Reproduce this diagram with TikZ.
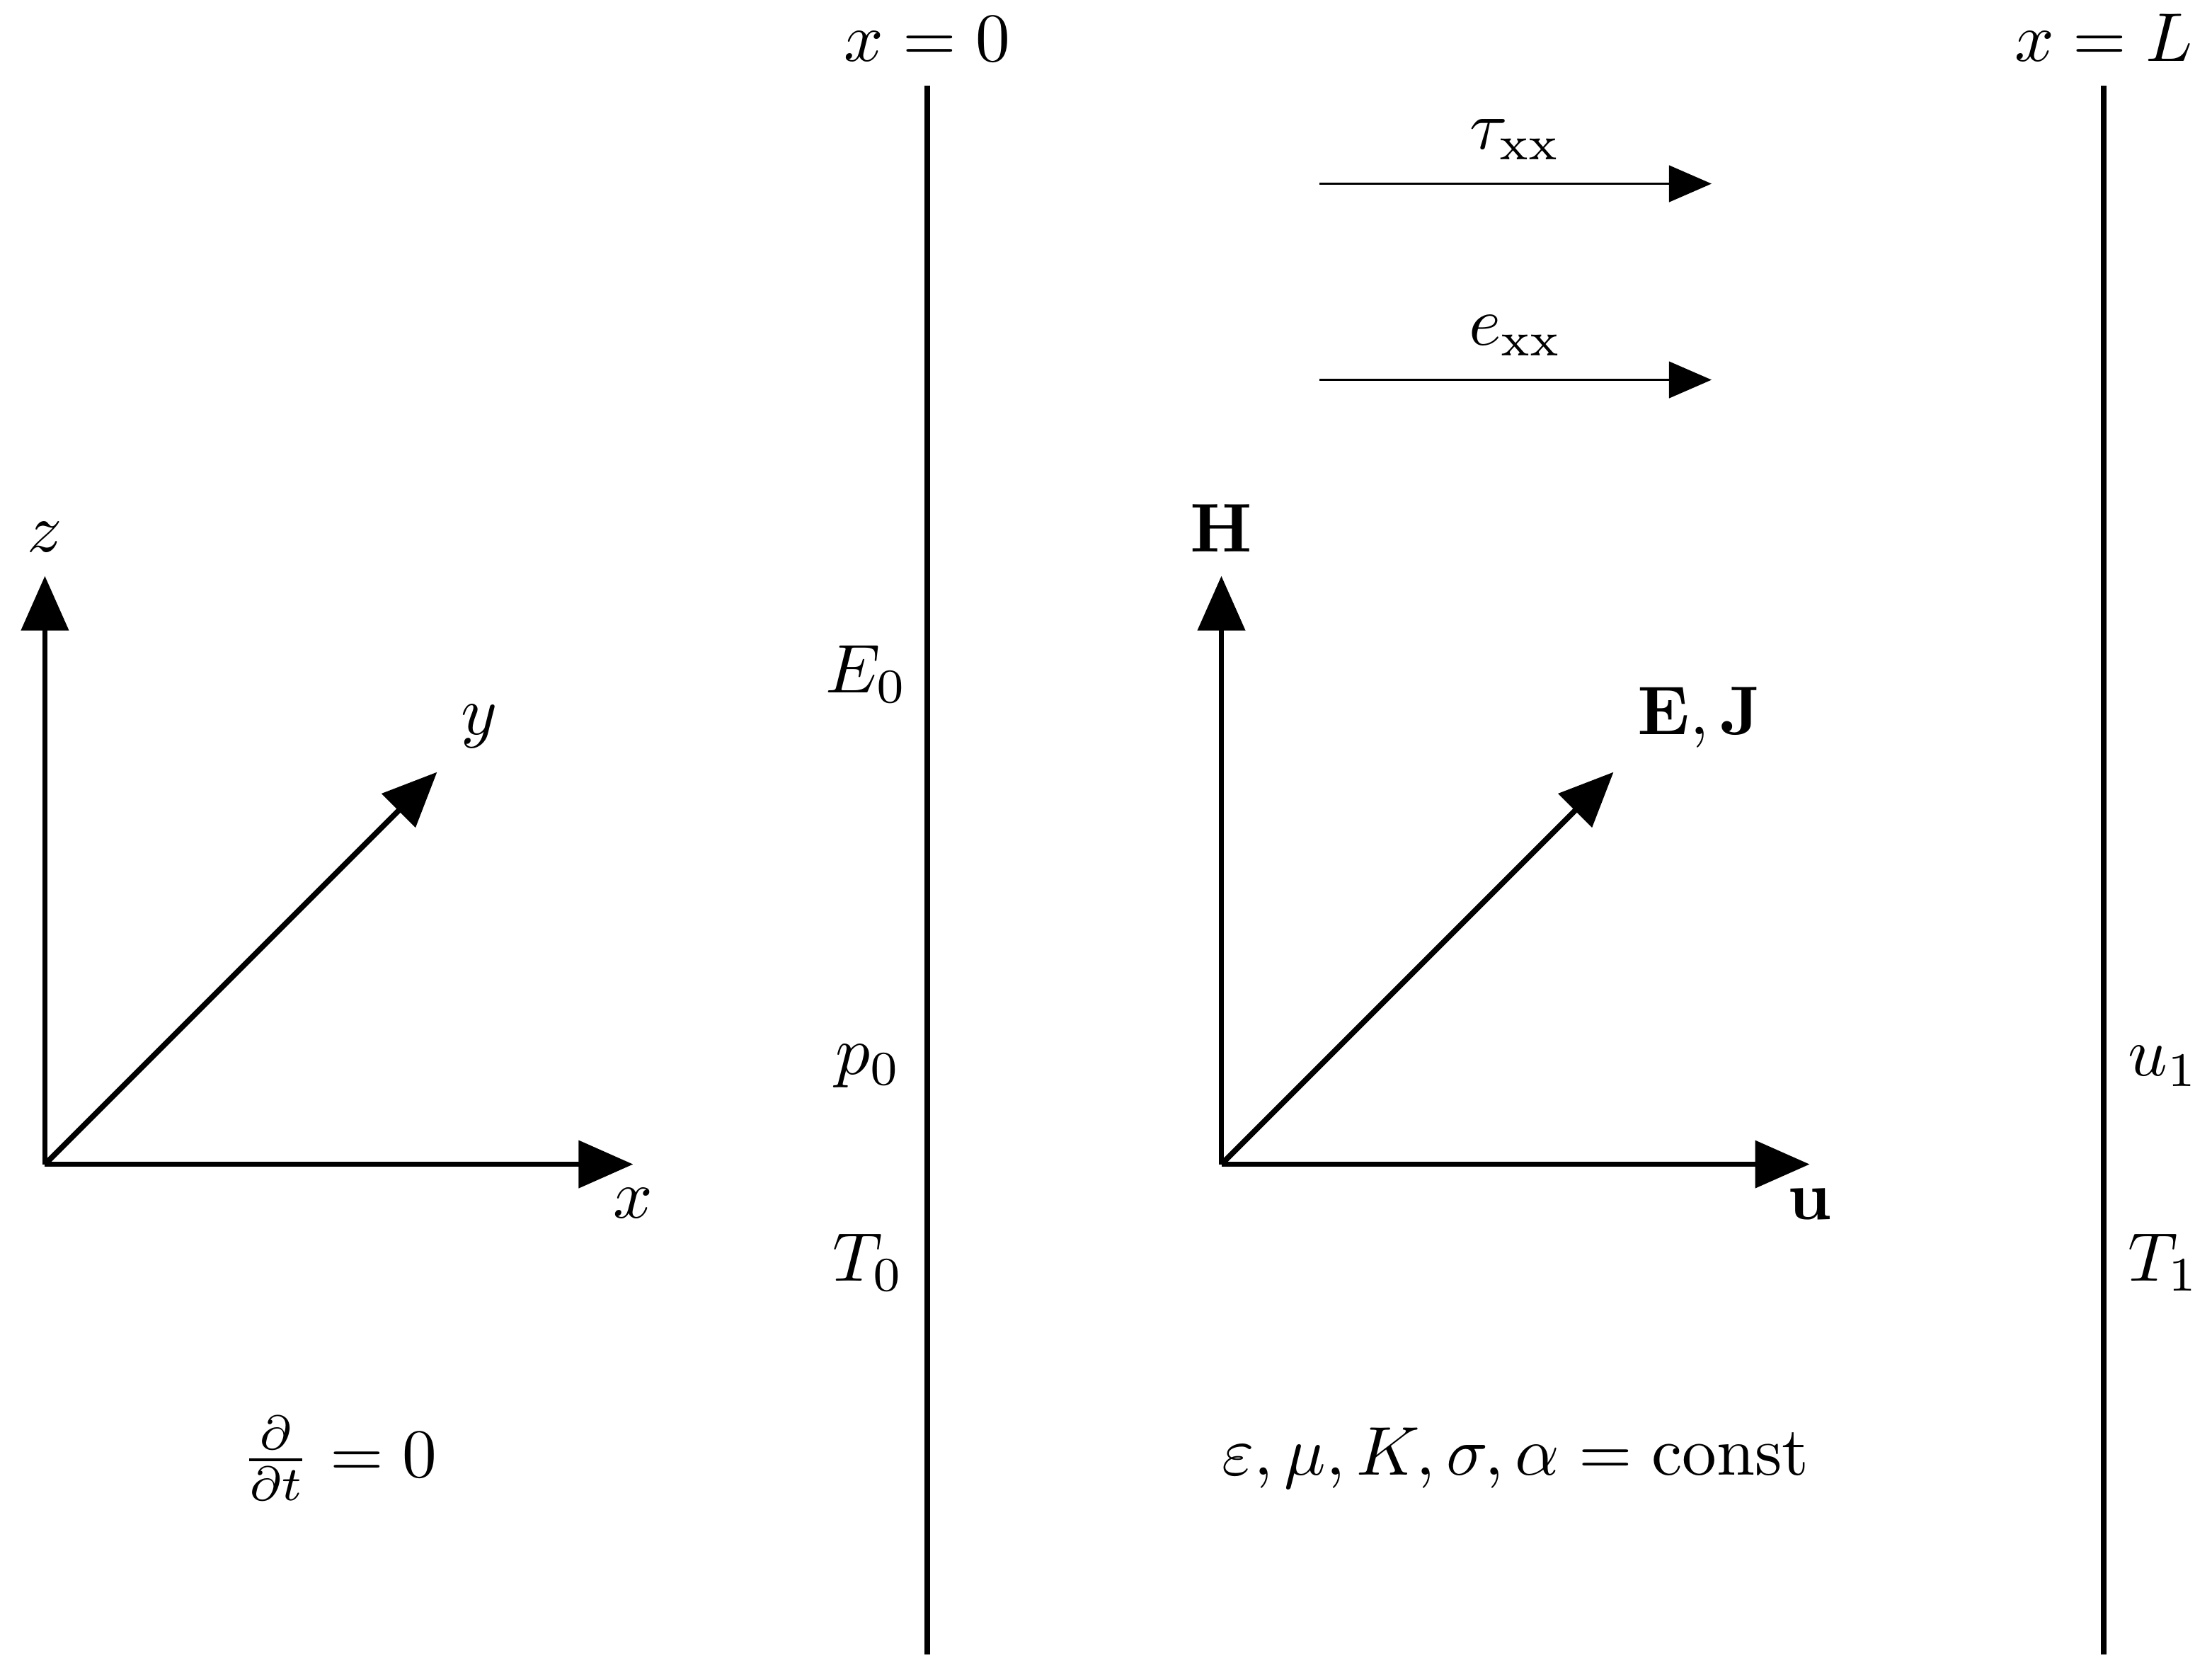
\documentclass[tikz,border=0pt]{standalone}
\usetikzlibrary{arrows.meta}
\tikzset{
  wall/.style={thick},
  axis/.style={thick,-{Triangle[length=2.78mm,width=2.38mm]}},
  flux/.style={thin,-{Triangle[length=2.17mm,width=1.85mm]}}
}
\begin{document}
\begin{tikzpicture}

        \useasboundingbox (-0.229,-2.601) rectangle (11.052,5.937);

        \coordinate (wallA0) at (4.5,-2.5);
        \coordinate (wallB0) at (10.5,-2.5);
        \coordinate (tauA) at (6.5,5);
        \coordinate (eA) at (6.5,4);

        \node (wallA) at (4.5,5.5) [above] {$x=0$};
        \node (wallB) at (10.5,5.5) [above] {$x=L$};
        \node (tauB) at (8.5,5) [inner sep=0pt] {};
        \node (eB) at (8.5,4) [inner sep=0pt] {};

        \node (orig)  at (0,0) [inner sep=0pt] {};
        \node (z)     at (0,3) [above] {$z$};
        \node (y)     at (2,2) [above right] {$y$};
        \node (x)     at (3,0) [below] {$x$};

        \node (orig2) at (6,0) [inner sep=0pt] {};
        \node (H)     at (6,3) [above] {$\mathbf{H}$};
        \node (EJ)    at (8,2) [above right] {$\mathbf{E},\mathbf{J}$};
        \node (u)     at (9,0) [below] {$\mathbf{u}$};

        \draw[wall] (wallA0) -- (wallA.south);
        \draw[wall] (wallB0) -- (wallB.south);

        \draw[flux] (tauA) -- (tauB.center);
        \draw[flux] (eA) -- (eB.center);

        \draw[axis] (orig.center) -- (z.south);
        \draw[axis] (orig.center) -- (y.south west);
        \draw[axis] (orig.center) -- (x.north);

        \draw[axis] (orig2.center) -- (H.south);
        \draw[axis] (orig2.center) -- (EJ.south west);
        \draw[axis] (orig2.center) -- (u.north);

        \node (taulab) at (7.5,5) [above] {$\tau_{\mathrm{xx}}$};
        \node (elab)   at (7.5,4) [above] {$e_{\mathrm{xx}}$};

        \node (E0) at (4.525,2.5) [left] {$E_0$};
        \node (p0) at (4.49,0.5)  [left] {$p_0$};
        \node (T0) at (4.507,-0.5) [left] {$T_0$};
        \node (u1) at (10.5,0.5)  [right] {$u_1$};
        \node (T1) at (10.5,-0.5) [right] {$T_1$};

        \node (steady) at (1.5,-1.5) {$\frac{\partial}{\partial t}=0$};
        \node (const)  at (7.5,-1.5) {$\varepsilon,\mu,K,\sigma,\alpha=\mathrm{const}$};

      \end{tikzpicture}
\end{document}
